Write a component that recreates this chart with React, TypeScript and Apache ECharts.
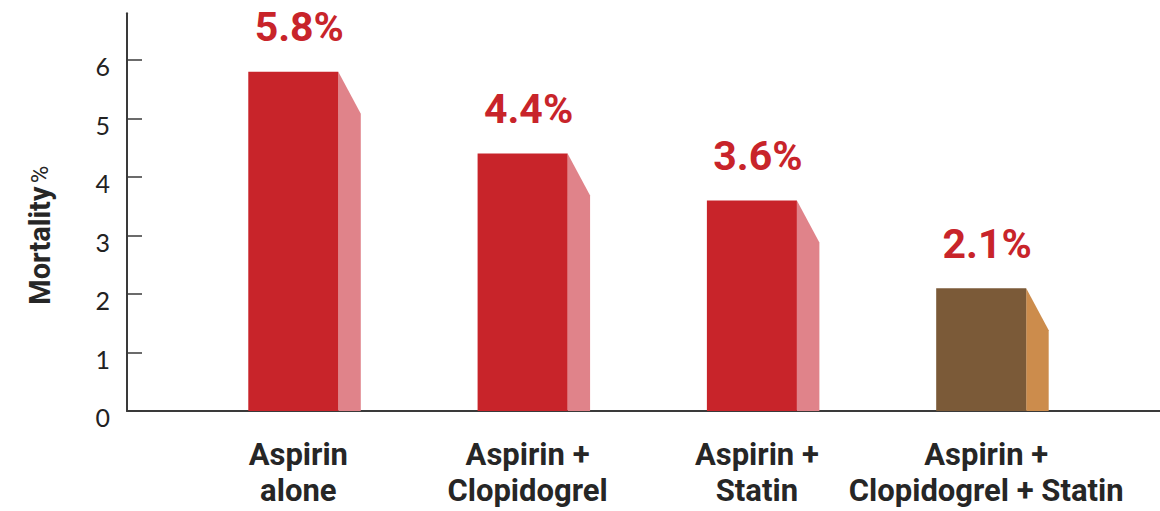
import React, { useEffect, useRef } from "react";
import * as echarts from "echarts";

const categories = ["Aspirin\nalone", "Aspirin +\nClopidogrel", "Aspirin +\nStatin", "Aspirin +\nClopidogrel + Statin"];
const mortality = [5.8, 4.4, 3.6, 2.1];
const valueLabels = ["5.8%", "4.4%", "3.6%", "2.1%"];
const yTicks = [0, 1, 2, 3, 4, 5, 6];
const frontColors = ["#C8242A", "#C8242A", "#C8242A", "#7B5A38"];
const sideColors = ["#E0838A", "#E0838A", "#E0838A", "#CC8C4C"];

const BOLD_FONT = "Roboto, 'Liberation Sans', sans-serif";

export default function App() {
  const ref = useRef<HTMLDivElement>(null);
  useEffect(() => {
    if (!ref.current) return;
    const chart = echarts.init(ref.current, null, { renderer: "svg" });
    const data = mortality.map((v, i) => [i + 1, v]);
    chart.setOption({
      animation: false,
      backgroundColor: "#ffffff",
      grid: { left: 127, right: 0, top: 13.2, bottom: 100, outerBoundsMode: "none", containLabel: false },
      xAxis: {
        type: "value",
        min: 0.253,
        max: 4.758,
        splitLine: { show: false },
        axisTick: { show: false },
        axisLine: { show: true, lineStyle: { color: "#3a3a3a", width: 2 } },
        axisLabel: {
          customValues: [1, 2, 3, 4],
          formatter: (v: number) => categories[Math.round(v) - 1] ?? "",
          color: "#262626",
          fontFamily: BOLD_FONT,
          fontWeight: "bold",
          fontSize: 31,
          lineHeight: 36,
          margin: 25,
          hideOverlap: false,
        },
      },
      yAxis: {
        type: "value",
        min: 0,
        max: 6.8,
        interval: 1,
        splitLine: { show: false },
        axisLine: { show: true, lineStyle: { color: "#3a3a3a", width: 2 } },
        axisTick: { show: true, inside: true, length: 15, customValues: yTicks, lineStyle: { color: "#3a3a3a", width: 1.5 } },
        axisLabel: {
          customValues: yTicks,
          color: "#222",
          fontFamily: "Lato, 'Open Sans', sans-serif",
          fontSize: 25,
          margin: 17,
          verticalAlign: "top",
          lineHeight: 12,
        },
        name: "{b|Mortality} {p|%}",
        nameLocation: "middle",
        nameRotate: 90,
        nameGap: 73,
        nameTextStyle: {
          padding: [0, 46, 0, 0],
          rich: {
            b: { fontFamily: BOLD_FONT, fontWeight: "bold", fontSize: 29, color: "#262626" },
            p: { fontFamily: BOLD_FONT, fontWeight: "normal", fontSize: 24, color: "#262626" },
          },
        },
      },
      series: [
        {
          type: "custom",
          data,
          renderItem: (params: any, api: any) => {
            const x = api.value(0);
            const v = api.value(1);
            const idx = params.dataIndex;
            const topPt = api.coord([x, v]);
            const basePt = api.coord([x, 0]);
            const cx = topPt[0];
            const top = topPt[1];
            const base = basePt[1];
            const fl = cx - 50;
            const fr = cx + 40;
            const sr = cx + 62.5;
            const drop = 42;
            return {
              type: "group",
              children: [
                {
                  type: "polygon",
                  shape: { points: [[fr, top], [sr, top + drop], [sr, base], [fr, base]] },
                  style: { fill: sideColors[idx] },
                },
                {
                  type: "rect",
                  shape: { x: fl, y: top, width: fr - fl, height: base - top },
                  style: { fill: frontColors[idx] },
                },
                {
                  type: "text",
                  style: {
                    text: valueLabels[idx],
                    x: cx + 1,
                    y: top - 24,
                    align: "center",
                    verticalAlign: "bottom",
                    fontFamily: BOLD_FONT,
                    fontWeight: "bold",
                    fontSize: 41,
                    fill: "#C8242A",
                  },
                },
              ],
            };
          },
        },
      ],
    });
    return () => chart.dispose();
  }, []);
  return <div ref={ref} style={{ position: "fixed", left: 0, top: 0, width: 1160, height: 511 }} />;
}
